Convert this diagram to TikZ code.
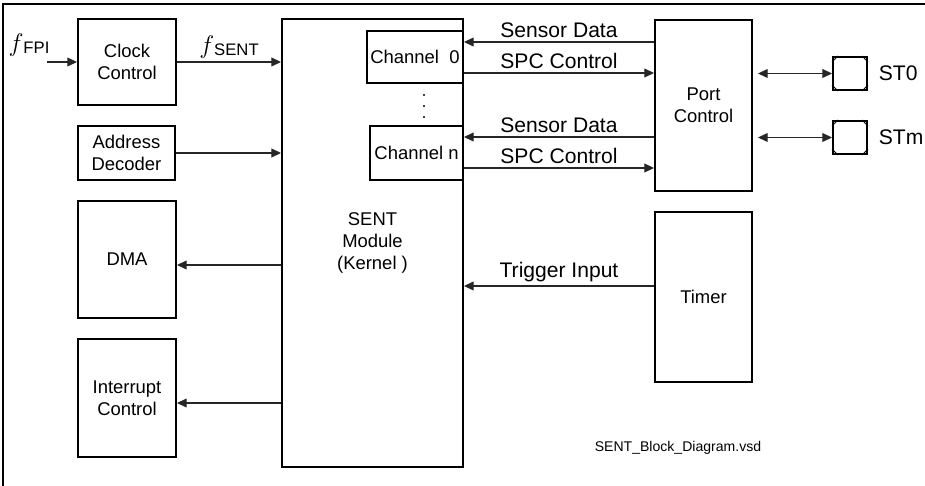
\documentclass[tikz,border=0pt]{standalone}
\usepackage{amsmath}
\usepackage{fontspec}
\setmainfont{Liberation Sans}
\usetikzlibrary{arrows.meta}

\newcommand{\freq}[1]{{\fontsize{15}{15}\selectfont$f$}\raisebox{-1.5pt}{\fontsize{9.5}{10}\selectfont #1}}

\begin{document}
\begin{tikzpicture}[x=0.02cm, y=-0.02cm,
  >={Triangle[length=5.5pt,width=5pt]},
  blk/.style={draw, line width=1.1pt, align=center, inner sep=1pt,
    font=\fontsize{10.5}{12.5}\selectfont},
  sig/.style={draw=black!85, line width=0.6pt, ->},
  lbl/.style={font=\fontsize{12}{14}\selectfont, inner sep=2pt},
  pad/.style={draw, line width=1.1pt, minimum width=0.68cm,
    minimum height=0.66cm, inner sep=0pt}]
  \useasboundingbox (0,0) rectangle (925,486);
  \draw[line width=0.6pt] (3,486) -- (3,4) -- (925,4);

  % blocks
  \node[blk, minimum width=1.96cm, minimum height=1.72cm] (clk) at (127,62) {Clock\\Control};
  \node[blk, minimum width=1.94cm, minimum height=1.08cm] (addr) at (126.5,153) {Address\\Decoder};
  \node[blk, minimum width=1.96cm, minimum height=2.34cm] (dma) at (127,259.5) {DMA};
  \node[blk, minimum width=1.96cm, minimum height=2.36cm] (intr) at (127,398) {Interrupt\\Control};
  \node[blk, minimum width=3.62cm, minimum height=8.96cm] (sent) at (372.5,243) {SENT\\Module\\(Kernel )};
  \node[blk, minimum width=1.92cm, minimum height=1.04cm] (ch0) at (415,57) {Channel~~0};
  \node[blk, minimum width=1.86cm, minimum height=1.08cm] (chn) at (416.5,153) {Channel n};
  \foreach \y in {95,106,117}
    \fill (424,\y) circle (0.6pt);
  \node[blk, minimum width=1.94cm, minimum height=3.42cm] (port) at (703.5,105.5) {Port\\Control};
  \node[blk, minimum width=1.94cm, minimum height=3.4cm] (timer) at (703.5,297) {Timer};

  % pins
  \node[pad] (st0) at (850,73.5) {};
  \node[pad] (stm) at (850,137.5) {};
  \foreach \p in {st0,stm} {
    \draw[line width=0.5pt] ([xshift=0.12cm]\p.north west) -- ([yshift=-0.12cm]\p.north west);
    \draw[line width=0.5pt] ([xshift=-0.12cm]\p.north east) -- ([yshift=-0.12cm]\p.north east);
    \draw[line width=0.5pt] ([xshift=0.12cm]\p.south west) -- ([yshift=0.12cm]\p.south west);
    \draw[line width=0.5pt] ([xshift=-0.12cm]\p.south east) -- ([yshift=0.12cm]\p.south east);
  }
  \node[lbl, anchor=west] (st0name) at ([xshift=0.14cm]st0.east) {ST0};
  \node[lbl, anchor=west] (stmname) at ([xshift=0.14cm]stm.east) {STm};

  % clocks
  \coordinate (fpiin) at (47,62);
  \node[lbl] (fpi) at (29,45) {\freq{FPI}};
  \draw[sig] (fpiin) -- (clk.west);
  \draw[sig] (clk.east) -- node[lbl, above] {\freq{SENT}} (sent.west |- clk.east);
  \draw[sig] (addr.east) -- (sent.west |- addr.east);

  % outputs of the kernel
  \coordinate (dmain) at ([yshift=-0.11cm]dma.east);
  \coordinate (intrin) at ([yshift=-0.1cm]intr.east);
  \draw[sig] (sent.west |- dmain) -- (dmain);
  \draw[sig] (sent.west |- intrin) -- (intrin);

  % channels <-> port control
  \coordinate (ch0in) at ([yshift=0.3cm]ch0.east);
  \coordinate (ch0out) at ([yshift=-0.32cm]ch0.east);
  \coordinate (chnin) at ([yshift=0.32cm]chn.east);
  \coordinate (chnout) at ([yshift=-0.3cm]chn.east);
  \draw[sig] (port.west |- ch0in) -- node[lbl, above] {Sensor Data} (ch0in);
  \draw[sig] (ch0out) -- node[lbl, above] {SPC Control} (port.west |- ch0out);
  \draw[sig] (port.west |- chnin) -- node[lbl, above] {Sensor Data} (chnin);
  \draw[sig] (chnout) -- node[lbl, above] {SPC Control} (port.west |- chnout);
  \draw[sig, <->, shorten <=0.1cm] (port.east |- st0) -- (st0.west);
  \draw[sig, <->, shorten <=0.1cm] (port.east |- stm) -- (stm.west);

  % timer
  \coordinate (trig) at ([yshift=0.22cm]timer.west);
  \draw[sig] (trig) -- node[lbl, above] {Trigger Input} (sent.east |- trig);

  \node[font=\fontsize{8}{10}\selectfont] (fname) at (678,448) {SENT\_Block\_Diagram.vsd};
\end{tikzpicture}
\end{document}
